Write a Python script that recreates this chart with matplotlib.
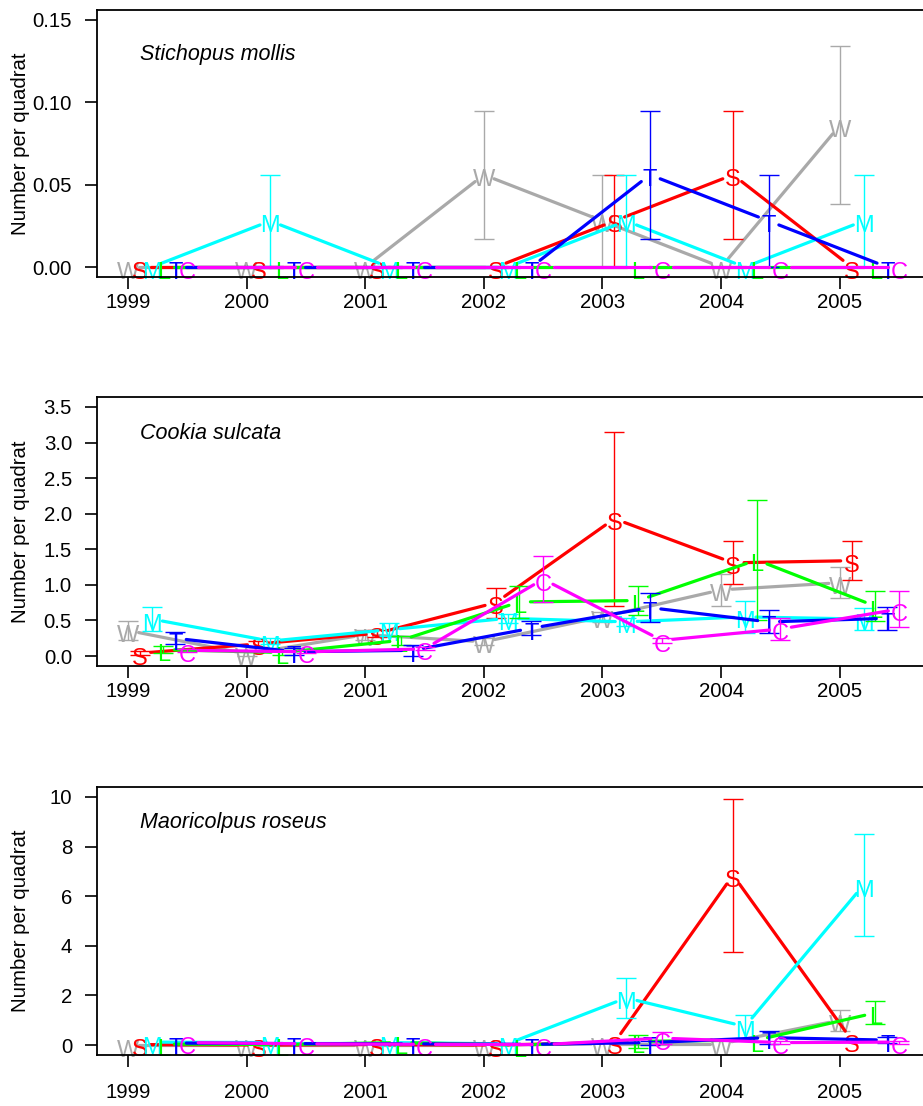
import numpy as np
import matplotlib
matplotlib.use("Agg")
import matplotlib.pyplot as plt
import matplotlib.transforms as mtransforms

plt.rcParams['font.family'] = ['Liberation Sans', 'DejaVu Sans']

years = np.arange(1999, 2006)
sites = ['W', 'S', 'M', 'L', 'T', 'C']
site_colours = ['darkgray', 'red', 'cyan', '#00FF00', 'blue', 'magenta']
site_offset = [0.0, 0.1, 0.2, 0.3, 0.4, 0.5]

# mean number per quadrat, one row per site (W, S, M, L, T, C), one column per year
stichopus_mean = [
    [0, 0, 0, 0.056, 0.028, 0, 0.086],
    [0, 0, 0, 0, 0.028, 0.056, 0],
    [0, 0.028, 0, 0, 0.028, 0, 0.028],
    [0, 0, 0, 0, 0, 0, 0],
    [0, 0, 0, 0, 0.056, 0.028, 0],
    [0, 0, 0, 0, 0, 0, 0],
]
stichopus_se = [
    [0, 0, 0, 0.039, 0.028, 0, 0.048],
    [0, 0, 0, 0, 0.028, 0.039, 0],
    [0, 0.028, 0, 0, 0.028, 0, 0.028],
    [0, 0, 0, 0, 0, 0, 0],
    [0, 0, 0, 0, 0.039, 0.028, 0],
    [0, 0, 0, 0, 0, 0, 0],
]

cookia_mean = [
    [0.36, 0.03, 0.30, 0.20, 0.55, 0.93, 1.03],
    [0.04, 0.17, 0.32, 0.75, 1.93, 1.31, 1.34],
    [0.52, 0.21, 0.37, 0.53, 0.48, 0.55, 0.52],
    [0.09, 0.05, 0.22, 0.76, 0.78, 1.35, 0.70],
    [0.25, 0.06, 0.08, 0.39, 0.68, 0.48, 0.53],
    [0.08, 0.06, 0.10, 1.08, 0.22, 0.38, 0.66],
]
cookia_se = [
    [0.13, 0.03, 0.07, 0.05, 0.07, 0.22, 0.22],
    [0.03, 0.04, 0.05, 0.21, 1.22, 0.30, 0.27],
    [0.17, 0.04, 0.09, 0.06, 0.06, 0.22, 0.15],
    [0.05, 0.03, 0.06, 0.22, 0.21, 0.84, 0.21],
    [0.085, 0.05, 0.08, 0.10, 0.20, 0.16, 0.16],
    [0.02, 0.02, 0.02, 0.32, 0.03, 0.15, 0.25],
]

maoricolpus_mean = [
    [0, 0, 0, 0, 0.05, 0.05, 1.0],
    [0.02, 0, 0.02, 0, 0.1, 6.85, 0.2],
    [0.12, 0.1, 0.1, 0.05, 1.9, 0.75, 6.45],
    [0.04, 0.02, 0.1, 0, 0.15, 0.2, 1.3],
    [0.08, 0.06, 0.05, 0.03, 0.1, 0.3, 0.2],
    [0.1, 0.05, 0.03, 0.02, 0.28, 0.1, 0.12],
]
maoricolpus_se = [
    [0, 0, 0, 0, 0, 0, 0.42],
    [0, 0, 0, 0, 0, 3.08, 0],
    [0, 0, 0, 0, 0.81, 0.45, 2.07],
    [0, 0, 0, 0, 0.25, 0, 0.47],
    [0, 0, 0, 0, 0.08, 0.25, 0.12],
    [0, 0, 0, 0, 0.25, 0.05, 0.06],
]

panels = [
    ('Stichopus mollis', stichopus_mean, stichopus_se,
     [0, 0.05, 0.10, 0.15], ['0.00', '0.05', '0.10', '0.15'], (-0.006, 0.156)),
    ('Cookia sulcata', cookia_mean, cookia_se,
     [0, 0.5, 1.0, 1.5, 2.0, 2.5, 3.0, 3.5],
     ['0.0', '0.5', '1.0', '1.5', '2.0', '2.5', '3.0', '3.5'], (-0.14, 3.64)),
    ('Maoricolpus roseus', maoricolpus_mean, maoricolpus_se,
     [0, 2, 4, 6, 8, 10], ['0', '2', '4', '6', '8', '10'], (-0.4, 10.4)),
]

W, H = 923, 1106
fig = plt.figure(figsize=(W / 100, H / 100), dpi=100)

# plot regions in pixels: (top, bottom); the right edge runs off the page
boxes = [(10, 277), (397, 666), (787, 1055)]
left_px, right_px = 97, 930
label_baseline = [60, 439, 828]
year_pad = [3, 3, 11.5]


def gapped_line(ax, x, y, colour, gap=11):
    # like R's type="b": lines stop short of each point to leave room for the letter
    pts = ax.transData.transform(np.column_stack([x, y]))
    inv = ax.transData.inverted()
    for p0, p1 in zip(pts[:-1], pts[1:]):
        d = p1 - p0
        length = np.hypot(d[0], d[1])
        if length <= 2 * gap:
            continue
        u = d / length
        seg = inv.transform(np.array([p0 + u * gap, p1 - u * gap]))
        ax.plot(seg[:, 0], seg[:, 1], color=colour, lw=2.3,
                solid_capstyle='round', zorder=2)


for k, (name, means, ses, yticks, ylabels, ylim) in enumerate(panels):
    top, bot = boxes[k]
    ax = fig.add_axes([left_px / W, 1 - bot / H, (right_px - left_px) / W, (bot - top) / H])
    ax.set_xlim(1998.74, 2005.76)
    ax.set_ylim(*ylim)
    ax.spines['right'].set_visible(False)
    for s in ['left', 'top', 'bottom']:
        ax.spines[s].set_linewidth(1.3)
    ax.set_xticks(years)
    ax.set_xticklabels([str(y) for y in years])
    ax.set_yticks(yticks)
    ax.set_yticklabels(ylabels)
    ax.tick_params(direction='out', length=8.5, width=1.2, labelsize=14.7, colors='black')
    ax.tick_params(axis='y', pad=9.5)
    ax.tick_params(axis='x', pad=year_pad[k])

    letter_trans = mtransforms.offset_copy(ax.transData, fig=fig, x=0, y=-3, units='dots')

    for i, site in enumerate(sites):
        x = years + site_offset[i]
        y = np.array(means[i], dtype=float)
        se = np.array(ses[i], dtype=float)
        col = site_colours[i]
        gapped_line(ax, x, y, col)
        for xi, yi in zip(x, y):
            ax.text(xi, yi, site, transform=letter_trans, ha='center', va='center_baseline',
                    fontsize=17, color=col, clip_on=False, zorder=2)
        has_err = se > 0
        if has_err.any():
            ax.errorbar(x[has_err], y[has_err], yerr=se[has_err], fmt='none',
                        ecolor=col, elinewidth=1.0, capsize=7, capthick=1.0, zorder=2)

    ax.text((140 - left_px) / (right_px - left_px), (bot - label_baseline[k]) / (bot - top), name,
            transform=ax.transAxes, fontsize=15.5, style='italic', ha='left', va='baseline')

    fig.text(21 / W, 1 - (top + bot) / 2 / H, 'Number per quadrat', rotation=90,
             ha='center', va='center', fontsize=14.7)

fig.savefig('out.png', dpi=100)
